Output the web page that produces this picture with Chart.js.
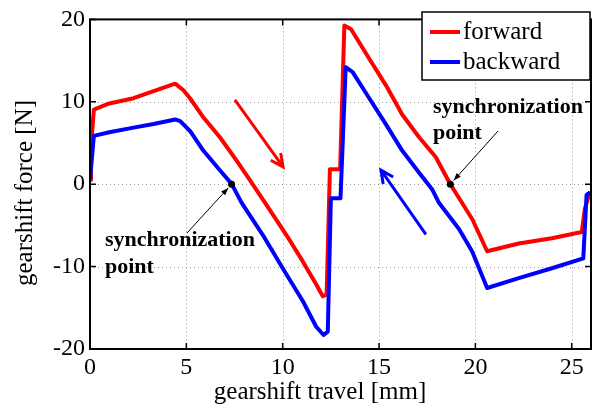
<!DOCTYPE html>
<html>
<head>
<meta charset="utf-8">
<script src="https://cdn.jsdelivr.net/npm/chart.js@4.4.0/dist/chart.umd.min.js"></script>
<style>
  body { margin: 0; background: #fff; }
  #wrap { position: relative; width: 592px; height: 407px; }
</style>
</head>
<body>
<div id="wrap"><canvas id="myChart" width="592" height="407"></canvas></div>
<script>
// DATOS

// forward (red)
const forwardX = [0, 0.05, 0.2, 1.0, 2.26, 3.3, 4.42, 4.85, 5.2, 5.9, 6.74, 7.6, 8.3, 9.2, 10.2, 11.05, 11.75, 12.08, 12.28, 12.45, 12.98, 13.2, 13.55, 14.5, 15.36, 16.2, 17.08, 17.94, 18.7, 19.84, 20.61, 22.25, 23.97, 25.52, 25.68, 25.95];
const forwardY = [0.5, 4.5, 9.05, 9.8, 10.44, 11.3, 12.2, 11.4, 10.4, 8.06, 5.7, 2.9, 0.5, -2.66, -6.2, -9.4, -12.2, -13.6, -13.4, 1.8, 1.8, 19.25, 18.8, 15.2, 12.0, 8.45, 5.7, 3.3, 0.0, -4.25, -8.14, -7.2, -6.55, -5.8, -3.0, -0.9];

// backward (blue)
const backwardX = [0, 0.2, 1.0, 2.26, 3.3, 4.42, 4.68, 5.19, 5.88, 6.74, 7.35, 7.87, 8.98, 10.0, 11.05, 11.74, 12.12, 12.34, 12.5, 13.0, 13.27, 13.63, 14.5, 15.36, 16.2, 17.08, 17.77, 18.11, 19.15, 19.84, 20.61, 22.25, 23.97, 25.6, 25.77, 25.95];
const backwardY = [0.5, 5.87, 6.3, 6.87, 7.3, 7.86, 7.65, 6.46, 4.08, 1.7, 0.04, -2.26, -6.2, -10.2, -14.2, -17.3, -18.3, -17.9, -1.7, -1.7, 14.2, 13.6, 10.4, 7.26, 4.08, 1.4, -0.68, -2.26, -5.44, -8.2, -12.6, -11.4, -10.2, -9.0, -1.3, -1.0];

const legendLabels = ['forward', 'backward'];
const xTicks = [0, 5, 10, 15, 20, 25];
const yTicks = [-20, -10, 0, 10, 20];

// flechas de direccion [inicio, punta]
const forwardArrow = [[7.52, 10.24], [10.02, 2.1]];
const backwardArrow = [[17.43, -6.1], [15.1, 1.7]];

// puntos de sincronizacion
const syncBackward = [7.35, 0];
const syncForward = [18.7, 0];

const serif = "'Liberation Serif', 'Times New Roman', serif";
const toPoints = (xs, ys) => xs.map((x, i) => ({ x, y: ys[i] }));

// PLUGIN: rejilla punteada
const rejilla = {
    id: 'rejilla',
    beforeDatasetsDraw(chart) {
        const { ctx, chartArea: a, scales: { x, y } } = chart;
        ctx.save();
        ctx.strokeStyle = '#9a9a9a';
        ctx.lineWidth = 1;
        ctx.setLineDash([1, 3]);
        ctx.beginPath();
        xTicks.forEach(v => {
            const px = Math.round(x.getPixelForValue(v)) + 0.5;
            ctx.moveTo(px, a.top); ctx.lineTo(px, a.bottom);
        });
        yTicks.forEach(v => {
            const py = Math.round(y.getPixelForValue(v)) + 0.5;
            ctx.moveTo(a.left, py); ctx.lineTo(a.right, py);
        });
        ctx.stroke();
        ctx.restore();
    }
};

// PLUGIN: marco, ticks hacia dentro, flechas, anotaciones, leyenda
const extras = {
    id: 'extras',
    afterDraw(chart) {
        const { ctx, chartArea: a, scales: { x, y } } = chart;
        ctx.save();

        // marco
        ctx.strokeStyle = '#000';
        ctx.lineWidth = 2;
        ctx.strokeRect(a.left, a.top, a.right - a.left, a.bottom - a.top);

        // ticks hacia dentro
        ctx.lineWidth = 1.5;
        ctx.beginPath();
        xTicks.forEach(v => {
            const px = x.getPixelForValue(v);
            ctx.moveTo(px, a.bottom); ctx.lineTo(px, a.bottom - 6);
            ctx.moveTo(px, a.top); ctx.lineTo(px, a.top + 6);
        });
        yTicks.forEach(v => {
            const py = y.getPixelForValue(v);
            ctx.moveTo(a.left, py); ctx.lineTo(a.left + 6, py);
            ctx.moveTo(a.right, py); ctx.lineTo(a.right - 6, py);
        });
        ctx.stroke();

        // flechas grandes
        const bigArrow = (pts, color) => {
            const x0 = x.getPixelForValue(pts[0][0]), y0 = y.getPixelForValue(pts[0][1]);
            const x1 = x.getPixelForValue(pts[1][0]), y1 = y.getPixelForValue(pts[1][1]);
            const ang = Math.atan2(y1 - y0, x1 - x0);
            ctx.strokeStyle = color;
            ctx.lineWidth = 3;
            ctx.lineCap = 'butt';
            ctx.beginPath();
            ctx.moveTo(x0, y0); ctx.lineTo(x1, y1);
            ctx.moveTo(x1 - 14 * Math.cos(ang - 0.45), y1 - 14 * Math.sin(ang - 0.45));
            ctx.lineTo(x1, y1);
            ctx.lineTo(x1 - 14 * Math.cos(ang + 0.45), y1 - 14 * Math.sin(ang + 0.45));
            ctx.stroke();
        };
        bigArrow(forwardArrow, '#ff0000');
        bigArrow(backwardArrow, '#0000ff');

        // puntos de sincronizacion con flecha fina
        const syncMark = (pt, fromX, fromY) => {
            const px = x.getPixelForValue(pt[0]), py = y.getPixelForValue(pt[1]);
            ctx.fillStyle = '#000';
            ctx.beginPath(); ctx.arc(px, py, 3.5, 0, Math.PI * 2); ctx.fill();
            const ang = Math.atan2(py - fromY, px - fromX);
            const tx = px - 5 * Math.cos(ang), ty = py - 5 * Math.sin(ang);
            ctx.strokeStyle = '#000';
            ctx.lineWidth = 1;
            ctx.beginPath(); ctx.moveTo(fromX, fromY); ctx.lineTo(tx, ty); ctx.stroke();
            ctx.beginPath();
            ctx.moveTo(tx, ty);
            ctx.lineTo(tx - 8 * Math.cos(ang - 0.35), ty - 8 * Math.sin(ang - 0.35));
            ctx.lineTo(tx - 8 * Math.cos(ang + 0.35), ty - 8 * Math.sin(ang + 0.35));
            ctx.closePath(); ctx.fill();
        };
        syncMark(syncBackward, 187, 233);
        syncMark(syncForward, 498, 131);

        ctx.fillStyle = '#000';
        ctx.font = 'bold 22px ' + serif;
        ctx.textAlign = 'left';
        ctx.textBaseline = 'alphabetic';
        ctx.fillText('synchronization', 105, 246);
        ctx.fillText('point', 105, 273);
        ctx.fillText('synchronization', 433, 113);
        ctx.fillText('point', 433, 139);

        // titulos de ejes
        ctx.font = '25px ' + serif;
        ctx.textAlign = 'center';
        ctx.fillText('gearshift travel [mm]', 320, 399);
        ctx.save();
        ctx.translate(32, 193);
        ctx.rotate(-Math.PI / 2);
        ctx.fillText('gearshift force [N]', 0, 0);
        ctx.restore();

        // leyenda
        ctx.fillStyle = '#fff';
        ctx.fillRect(422, 12, 168, 68);
        ctx.strokeStyle = '#000';
        ctx.lineWidth = 1.5;
        ctx.strokeRect(422, 12, 168, 68);
        const colors = ['#ff0000', '#0000ff'];
        legendLabels.forEach((lab, i) => {
            const ly = 32 + i * 30;
            ctx.strokeStyle = colors[i];
            ctx.lineWidth = 4;
            ctx.beginPath(); ctx.moveTo(430, ly); ctx.lineTo(460, ly); ctx.stroke();
            ctx.fillStyle = '#000';
            ctx.font = '25px ' + serif;
            ctx.textAlign = 'left';
            ctx.fillText(lab, 463, ly + 7);
        });

        ctx.restore();
    }
};

// GRAFICA
const ctx = document.getElementById('myChart');

const myChart = new Chart(ctx, {
    type: 'scatter',
    data: {
        datasets: [{
            label: legendLabels[0],
            data: toPoints(forwardX, forwardY),
            showLine: true,
            borderColor: '#ff0000',
            borderWidth: 4,
            pointRadius: 0,
            tension: 0,
            borderJoinStyle: 'round',
            order: 1
        }, {
            label: legendLabels[1],
            data: toPoints(backwardX, backwardY),
            showLine: true,
            borderColor: '#0000ff',
            borderWidth: 4,
            pointRadius: 0,
            tension: 0,
            borderJoinStyle: 'round',
            order: 0
        }]
    },
    options: {
        responsive: false,
        animation: false,
        layout: { padding: { top: 13, right: 1, left: 0, bottom: 0 } },
        plugins: { legend: { display: false }, tooltip: { enabled: false } },
        scales: {
            x: {
                type: 'linear',
                min: 0,
                max: 26,
                afterFit: s => { s.height = 58; },
                afterBuildTicks: s => { s.ticks = xTicks.map(v => ({ value: v })); },
                ticks: { color: '#000', font: { family: serif, size: 24 }, padding: 4, maxRotation: 0 },
                grid: { display: false, drawTicks: false },
                border: { display: false }
            },
            y: {
                type: 'linear',
                min: -20,
                max: 20,
                afterFit: s => { s.width = 90; },
                afterBuildTicks: s => { s.ticks = yTicks.map(v => ({ value: v })); },
                ticks: { color: '#000', font: { family: serif, size: 24 }, padding: 5 },
                grid: { display: false, drawTicks: false },
                border: { display: false }
            }
        }
    },
    plugins: [rejilla, extras]
});
</script>
</body>
</html>
